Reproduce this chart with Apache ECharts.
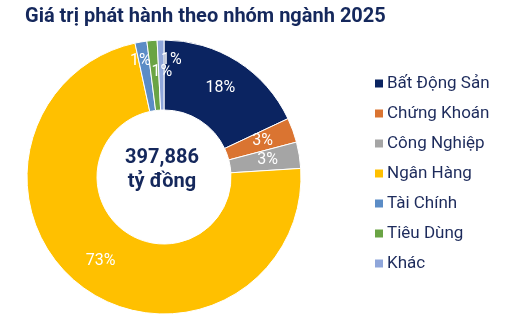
<!DOCTYPE html>
<html><head><meta charset="utf-8">
<script src="https://cdn.jsdelivr.net/npm/echarts@6/dist/echarts.min.js"></script>
<style>html,body{margin:0;padding:0;background:#fff}#c{width:506px;height:323px}</style>
</head><body><div id="c"></div>
<script>
const categories = ['Bất Động Sản','Chứng Khoán','Công Nghiệp','Ngân Hàng','Tài Chính','Tiêu Dùng','Khác'];
const shares = [18.0, 2.9, 3.1, 72.6, 1.4, 1.2, 0.8];
const labelsText = ['18%','3%','3%','73%','1%','1%','1%'];
const colors = ['#0B2461','#DA7431','#A5A5A5','#FFC000','#5B8CC6','#6AA444','#8FA6DA'];
const totalText = '397,886';
const unitText = 'tỷ đồng';

const chart = echarts.init(document.getElementById('c'), null, {renderer:'canvas'});
const font = 'Roboto, "Noto Sans", sans-serif';
const center = [164, 177];
const labelShift = {4:[-6,-13], 5:[7,0], 6:[10,-12]};
const main = categories.map((n,i)=>({name:n, value:shares[i], itemStyle:{color:colors[i]},
  label:{formatter: labelsText[i]}}));
chart.setOption({
  animation:false,
  color: colors,
  title:[{text:'Giá trị phát hành theo nhóm ngành 2025', left:20, top:2,
    textStyle:{fontFamily:font, fontSize:20, fontWeight:'bold', color:'#15285C'}},
    {text: totalText + '\n' + unitText, left:157, top:141, textAlign:'center',
    textStyle:{fontFamily:font, fontSize:20, fontWeight:'bold', color:'#15285C', lineHeight:24}}],
  legend:{orient:'vertical', left:368, top:70, itemWidth:10, itemHeight:10, itemGap:13, icon:'rect',
    textStyle:{fontFamily:font, fontSize:17, color:'#1D2B5C', padding:[0,0,0,-2]}, data:categories},
  series:[
    {type:'pie', center:center, radius:[67,137], startAngle:90, clockwise:true,
     itemStyle:{borderColor:'#fff', borderWidth:1},
     label:{position:'inside', color:'#fff', fontFamily:font, fontSize:16},
     labelLine:{show:false}, emphasis:{disabled:true}, data: main,
     labelLayout: function(p){ const s = labelShift[p.dataIndex]; return s ? {dx:s[0], dy:s[1], hideOverlap:false} : {hideOverlap:false}; }}
  ]
});
</script></body></html>
